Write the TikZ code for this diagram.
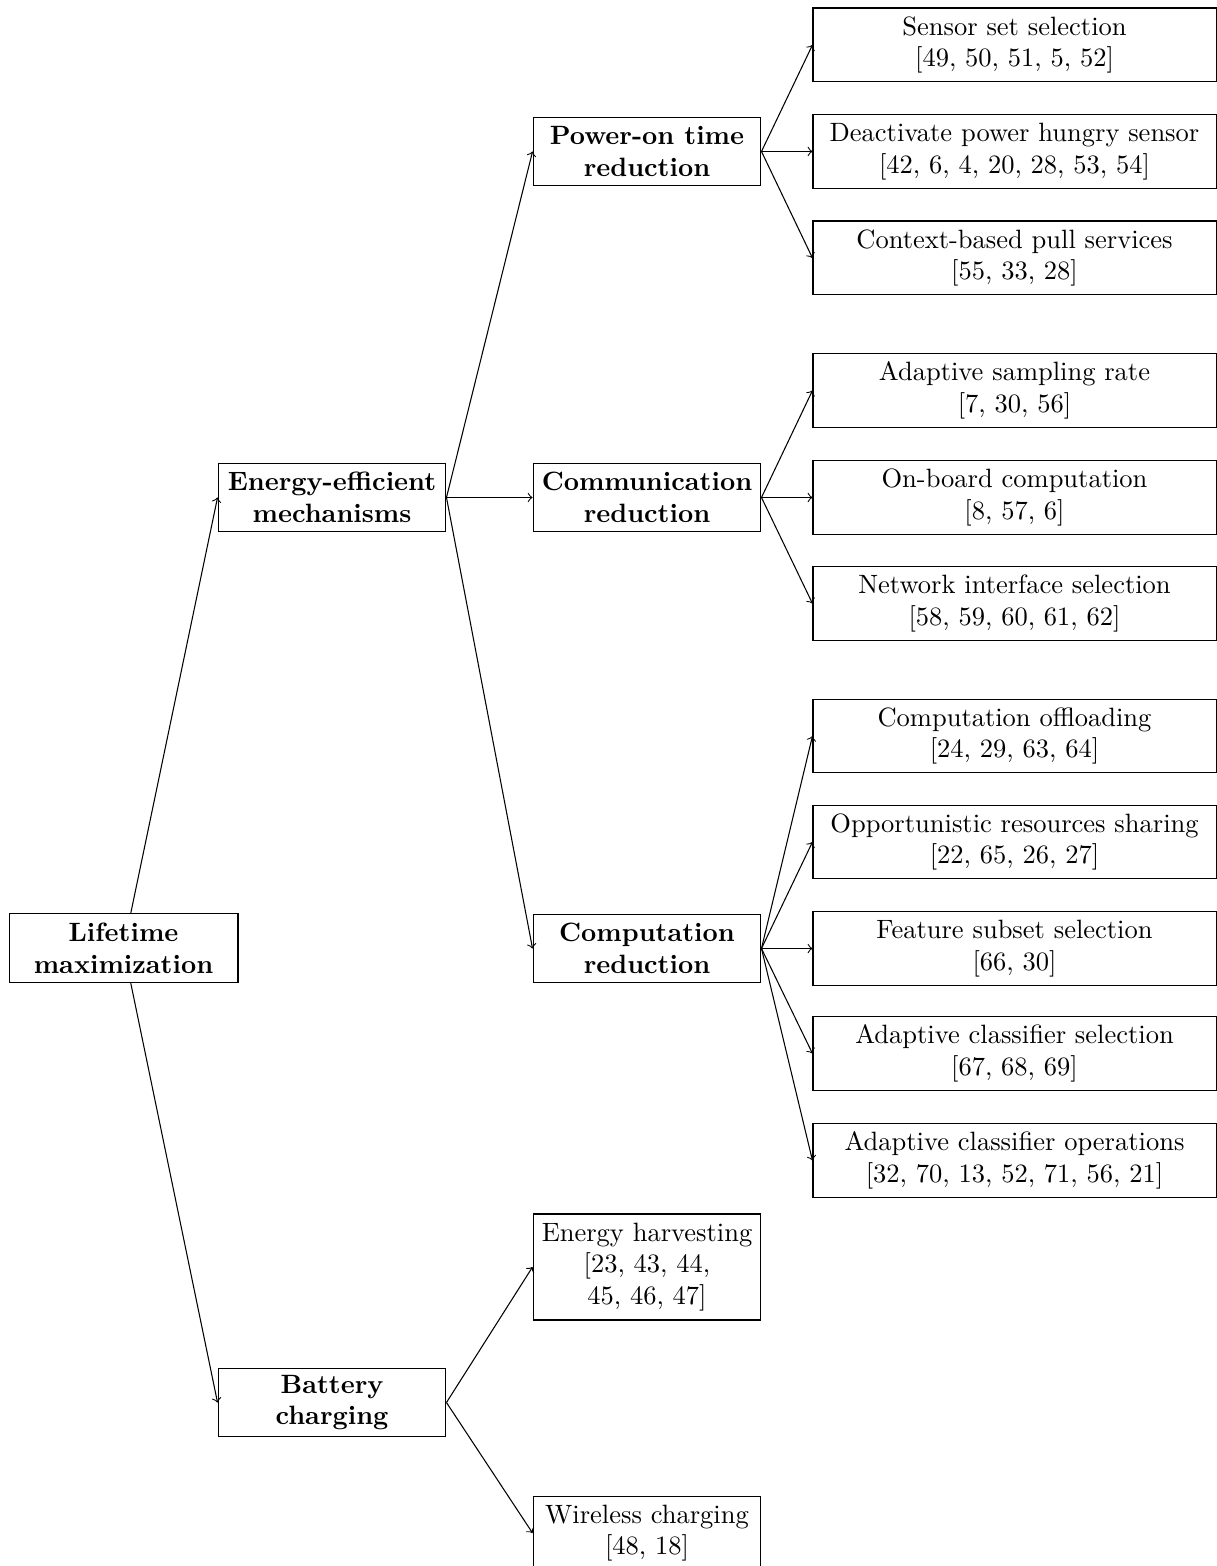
\documentclass[tikz,border=0pt]{standalone}
\begin{document}
\begin{tikzpicture}[x=0.3774pt,y=-0.3774pt,
  box/.style={draw, align=center, inner xsep=2pt, inner ysep=1pt},
  midbox/.style={box, font=\bfseries, minimum width=86pt, minimum height=25.7pt},
  smallbox/.style={box, minimum width=86pt},
  leafbox/.style={box, minimum width=152.1pt, minimum height=27.9pt},
  arr/.style={->}]
\useasboundingbox (0,0) rectangle (1217,1566);
\clip (0,0) rectangle (1217,1566);
% level 0
\node[midbox, minimum width=86.4pt] (life) at (123.5,948) {Lifetime\\maximization};
% level 1
\node[midbox] (eem) at (332,497.5) {Energy-efficient\\mechanisms};
\node[midbox] (bat) at (332,1402.5) {Battery\\charging};
% level 2
\node[midbox] (pot) at (647,151.5) {Power-on time\\reduction};
\node[midbox] (com) at (647,497.5) {Communication\\reduction};
\node[midbox] (cmp) at (647,948.5) {Computation\\reduction};
\node[smallbox, minimum height=40pt] (eh) at (647,1267) {Energy harvesting\\{[23, 43, 44,}\\45, 46, 47]};
\node[smallbox, minimum height=27.9pt] (wc) at (647,1533) {Wireless charging\\{[48, 18]}};
% level 3
\node[leafbox] (ss) at (1014.5,45) {Sensor set selection\\{[49, 50, 51, 5, 52]}};
\node[leafbox] (dp) at (1014.5,151.5) {Deactivate power hungry sensor\\{[42, 6, 4, 20, 28, 53, 54]}};
\node[leafbox] (cb) at (1014.5,258) {Context-based pull services\\{[55, 33, 28]}};
\node[leafbox] (as) at (1014.5,390.5) {Adaptive sampling rate\\{[7, 30, 56]}};
\node[leafbox] (ob) at (1014.5,497.5) {On-board computation\\{[8, 57, 6]}};
\node[leafbox] (ni) at (1014.5,603.5) {Network interface selection\\{[58, 59, 60, 61, 62]}};
\node[leafbox] (co) at (1014.5,736) {Computation offloading\\{[24, 29, 63, 64]}};
\node[leafbox] (ors) at (1014.5,842) {Opportunistic resources sharing\\{[22, 65, 26, 27]}};
\node[leafbox] (fs) at (1014.5,948.5) {Feature subset selection\\{[66, 30]}};
\node[leafbox] (acs) at (1014.5,1053.5) {Adaptive classifier selection\\{[67, 68, 69]}};
\node[leafbox] (aco) at (1014.5,1160.5) {Adaptive classifier operations\\{[32, 70, 13, 52, 71, 56, 21]}};
% connectors
\draw[arr] (life) -- (eem.west);
\draw[arr] (life) -- (bat.west);
\foreach \c in {pot,com,cmp} \draw[arr] (eem.east) -- (\c.west);
\foreach \c in {eh,wc} \draw[arr] (bat.east) -- (\c.west);
\foreach \c in {ss,dp,cb} \draw[arr] (pot.east) -- (\c.west);
\foreach \c in {as,ob,ni} \draw[arr] (com.east) -- (\c.west);
\foreach \c in {co,ors,fs,acs,aco} \draw[arr] (cmp.east) -- (\c.west);
\end{tikzpicture}
\end{document}
